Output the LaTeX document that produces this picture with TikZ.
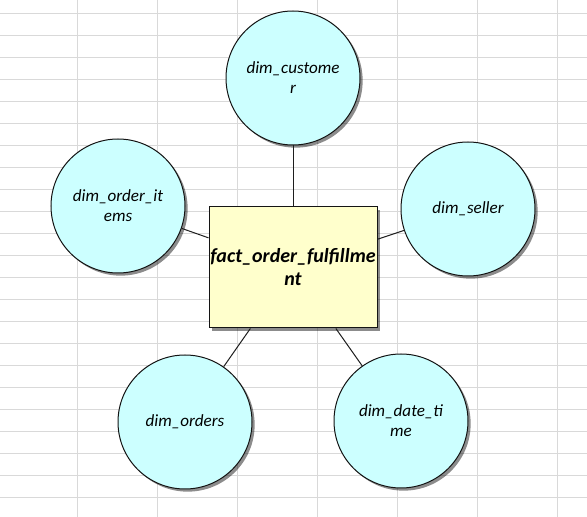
\documentclass[tikz,border=0pt]{standalone}
\usepackage{fontspec}
\setmainfont{Carlito}
\usetikzlibrary{shadows}

\begin{document}
\begin{tikzpicture}[x=0.75pt,y=0.75pt,yscale=-1,xscale=1,
  gridline/.style={draw={rgb, 255:red, 217; green, 217; blue, 217 }, line width=0.75pt},
  dimnode/.style={circle, draw={rgb, 255:red, 20; green, 20; blue, 20 }, line width=0.75pt,
    fill={rgb, 255:red, 204; green, 255; blue, 255 }, minimum size=100.5pt, inner sep=0pt,
    align=center, font=\fontsize{12.8}{15}\selectfont\itshape,
    drop shadow={shadow xshift=2pt, shadow yshift=-2pt, fill=black, opacity=0.45}},
  factnode/.style={rectangle, draw={rgb, 255:red, 20; green, 20; blue, 20 }, line width=0.75pt,
    fill={rgb, 255:red, 255; green, 255; blue, 204 }, minimum width=126pt, minimum height=90.75pt,
    inner sep=0pt, align=center, font=\fontsize{15}{17.25}\selectfont\bfseries\itshape,
    drop shadow={shadow xshift=2pt, shadow yshift=-2pt, fill=black, opacity=0.45}},
  link/.style={draw={rgb, 255:red, 30; green, 30; blue, 30 }, line width=0.75pt}
]
%uncomment if require: \path (0,517); %set diagram left start at 0, and has height of 517
\useasboundingbox (0,0) rectangle (587,517);
\fill[white] (0,0) rectangle (587,517);

%Grid Lines
\foreach \gx in {77,157,...,557} {\draw[gridline] (\gx,0) -- (\gx,517);}
\foreach \gy in {14,36,...,510} {\draw[gridline] (0,\gy) -- (587,\gy);}

% Text Node
\node[factnode] (fact) at (293,267.5) {fact\_order\_fulfillme\\nt};
% Text Node
\node[dimnode] (cust) at (293,78) {dim\_custome\\r};
% Text Node
\node[dimnode] (items) at (118,206) {dim\_order\_it\\ems};
% Text Node
\node[dimnode] (seller) at (468,209) {dim\_seller};
% Text Node
\node[dimnode] (orders) at (185,422) {dim\_orders};
% Text Node
\node[dimnode] (datetime) at (401,421) {dim\_date\_ti\\me};

%Straight Lines
\draw[link] (fact) -- (cust);
\draw[link] (fact) -- (items);
\draw[link] (fact) -- (seller);
\draw[link] (fact) -- (orders);
\draw[link] (fact) -- (datetime);

\end{tikzpicture}
\end{document}
